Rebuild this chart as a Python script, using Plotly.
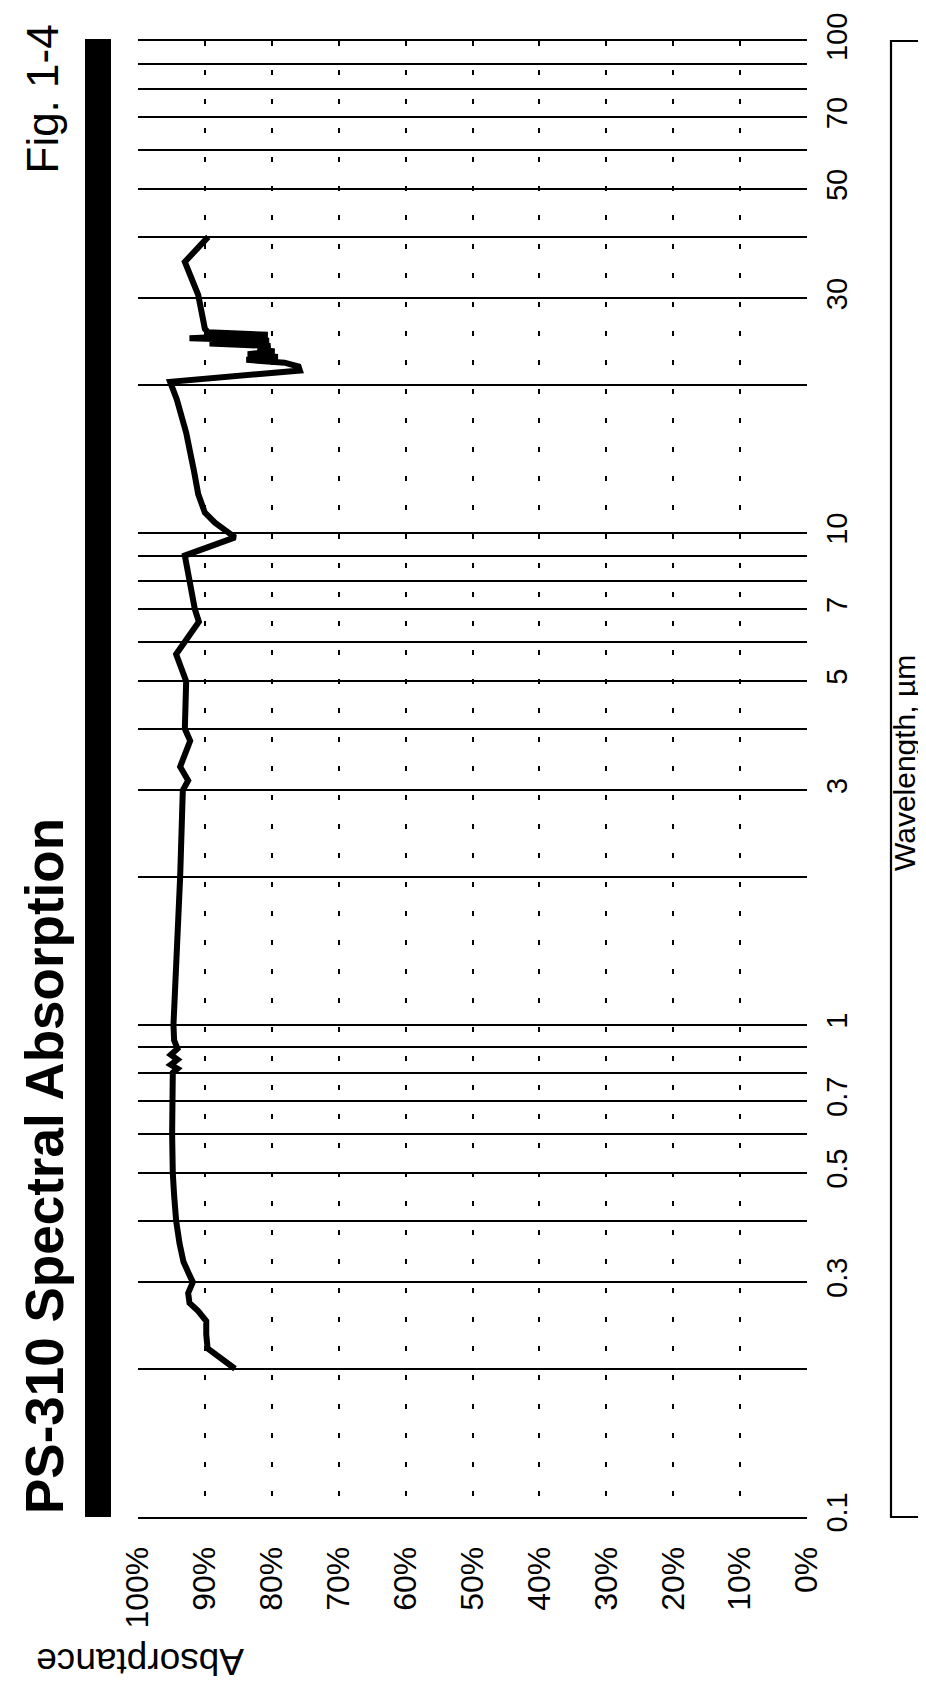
import plotly.graph_objects as go

# ---- data ----
wavelength_um = [0.20, 0.22, 0.235, 0.25, 0.262, 0.272, 0.285, 0.30, 0.31, 0.33, 0.36, 0.40,
                 0.45, 0.50, 0.60, 0.70, 0.80, 0.815, 0.83, 0.85, 0.87, 0.895, 0.93, 1.0,
                 1.5, 2.0, 3.0, 3.14, 3.35, 3.78, 4.0, 4.6, 5.0, 5.67, 6.6, 7.0, 8.0, 9.0,
                 9.8, 10.5, 11.0, 12.0, 13.3, 16.0, 18.7, 20.3, 21.4, 21.8, 22.2, 22.5,
                 22.8, 23.1, 23.4, 23.7, 24.0, 24.3, 24.6, 24.9, 25.3, 25.6, 26.0, 30.5,
                 35.6, 40.0]
absorptance_pct = [85.5, 89.6, 89.8, 89.8, 91.0, 92.3, 92.5, 91.8, 92.3, 93.2, 93.8, 94.3,
                   94.6, 94.8, 94.9, 94.9, 94.8, 94.1, 95.1, 94.1, 95.1, 94.1, 94.6, 94.7,
                   94.0, 93.7, 93.3, 92.5, 93.7, 92.2, 93.0, 92.9, 92.8, 94.3, 90.9, 91.5,
                   92.2, 93.0, 85.5, 88.5, 90.0, 91.0, 91.6, 92.8, 94.2, 95.2, 75.8, 76.0,
                   78.1, 83.8, 79.1, 83.6, 79.6, 82.1, 80.2, 89.3, 80.4, 92.3, 80.6, 89.5,
                   90.0, 91.0, 93.0, 89.5]

abs_ticks = [0, 10, 20, 30, 40, 50, 60, 70, 80, 90, 100]
abs_labels = ["0%", "10%", "20%", "30%", "40%", "50%", "60%", "70%", "80%", "90%", "100%"]

wl_grid = [0.1, 0.2, 0.3, 0.4, 0.5, 0.6, 0.7, 0.8, 0.9,
           1, 2, 3, 4, 5, 6, 7, 8, 9,
           10, 20, 30, 40, 50, 60, 70, 80, 90, 100]
wl_labels = ["0.1", "", "0.3", "", "0.5", "", "0.7", "", "",
             "1", "", "3", "", "5", "", "7", "", "",
             "10", "", "30", "", "50", "", "70", "", "",
             "100"]

# ---- layout geometry (pixels) ----
W, H = 926, 1685
L, R, T, B = 130, 127, 33, 176
PW, PH = W - L - R, H - T - B


def px_x(px):
    return (px - L) / PW


def px_y(py):
    return (H - B - py) / PH


FONT = "Liberation Sans, Arial, Helvetica, sans-serif"

fig = go.Figure()
fig.add_trace(go.Scatter(
    x=absorptance_pct, y=wavelength_um, mode="lines",
    line=dict(color="black", width=6),
    showlegend=False, hoverinfo="skip"))

fig.update_layout(
    width=W, height=H,
    margin=dict(l=L, r=R, t=T, b=B, pad=0, autoexpand=False),
    paper_bgcolor="white", plot_bgcolor="white",
    font=dict(family=FONT, color="black"),
    xaxis=dict(
        range=[100, 0], tickvals=abs_ticks, ticktext=abs_labels,
        tickangle=-90, tickfont=dict(size=32, family=FONT),
        showgrid=True, gridcolor="black", gridwidth=2, griddash="5px,24px",
        zeroline=False, showline=True, mirror=True, linecolor="black", linewidth=1.8,
        ticks="", ticklabelstandoff=15, ticklabeloverflow="allow", automargin=False,
    ),
    yaxis=dict(
        type="log", range=[-1.0004, 2.0004], side="right",
        tickvals=wl_grid, ticktext=wl_labels,
        tickangle=-90, tickfont=dict(size=29, family=FONT),
        showgrid=True, gridcolor="black", gridwidth=1.7,
        zeroline=False, showline=False, ticks="", ticklabelstandoff=10,
        ticklabeloverflow="allow", automargin=False,
    ),
    shapes=[
        dict(type="rect", xref="paper", yref="paper",
             x0=px_x(77), x1=px_x(103), y0=px_y(1509), y1=px_y(31),
             fillcolor="black", line=dict(width=0)),
        dict(type="rect", xref="paper", yref="paper",
             x0=px_x(883), x1=px_x(940), y0=px_y(1509), y1=px_y(33),
             fillcolor="rgba(0,0,0,0)", line=dict(color="black", width=2.2)),
    ],
    annotations=[
        dict(text="<b>PS-310 Spectral Absorption</b>", textangle=-90,
             xref="paper", yref="paper", x=px_x(36), y=px_y(1507),
             xanchor="center", yanchor="bottom", showarrow=False,
             font=dict(size=53, family=FONT, color="black"), borderpad=0),
        dict(text="Fig. 1-4", textangle=-90,
             xref="paper", yref="paper", x=px_x(34), y=px_y(16),
             xanchor="center", yanchor="top", showarrow=False,
             font=dict(size=44, family=FONT, color="black"), borderpad=0),
        dict(text="Wavelength, µm", textangle=-90,
             xref="paper", yref="paper", x=px_x(896), y=px_y(755),
             xanchor="center", yanchor="middle", showarrow=False,
             font=dict(size=30, family=FONT, color="black"), borderpad=0),
        dict(text="Absorptance", textangle=180,
             xref="paper", yref="paper", x=px_x(132), y=px_y(1654),
             xanchor="center", yanchor="middle", showarrow=False,
             font=dict(size=37, family=FONT, color="black"), borderpad=0),
    ],
)

fig.write_html("out.html")
